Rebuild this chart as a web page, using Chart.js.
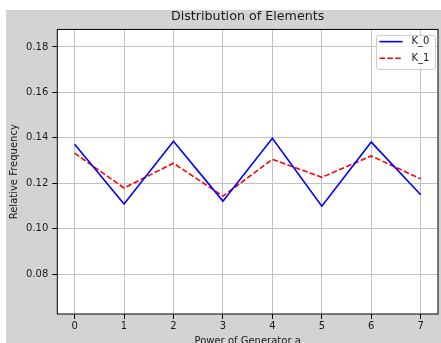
<!DOCTYPE html>
<html>
<head>
<meta charset="utf-8">
<script src="https://cdn.jsdelivr.net/npm/chart.js@4.4.0/dist/chart.umd.min.js"></script>
<style>
  html, body { margin: 0; padding: 0; background: #fff; }
  canvas { display: block; }
</style>
</head>
<body>
<canvas id="chart" width="441" height="343"></canvas>
<script>
// Data
const powers = [0, 1, 2, 3, 4, 5, 6, 7];
const k0Values = [0.1371, 0.1108, 0.1385, 0.1121, 0.1398, 0.1099, 0.1381, 0.1149];
const k1Values = [0.1332, 0.1179, 0.1288, 0.1143, 0.1305, 0.1226, 0.1320, 0.1219];
const seriesLabels = ['K_0', 'K_1'];
const xTicks = [0, 1, 2, 3, 4, 5, 6, 7];
const yTicks = [0.08, 0.10, 0.12, 0.14, 0.16, 0.18];

const FONT = 'DejaVu Sans';
const FIG_BG = '#d3d3d3';
const GRID = '#c2c2c2';

// Figure background + white axes face, and the black frame on top
const framePlugin = {
    id: 'frame',
    beforeDraw(chart) {
        const { ctx, chartArea: a } = chart;
        ctx.save();
        ctx.fillStyle = '#fff';
        ctx.fillRect(0, 0, chart.width, chart.height);
        ctx.fillStyle = FIG_BG;
        ctx.fillRect(6, 10, chart.width - 6, chart.height - 10);
        ctx.fillStyle = '#fff';
        ctx.fillRect(a.left, a.top, a.right - a.left, a.bottom - a.top);
        ctx.restore();
    },
    afterDatasetsDraw(chart) {
        const { ctx, chartArea: a } = chart;
        ctx.save();
        ctx.strokeStyle = '#000';
        ctx.lineWidth = 1;
        ctx.strokeRect(a.left, a.top, a.right - a.left, a.bottom - a.top);
        ctx.restore();
    }
};

// matplotlib-like legend box in the upper right corner
const legendPlugin = {
    id: 'boxLegend',
    afterDraw(chart) {
        const { ctx, chartArea: a } = chart;
        const w = 59, h = 34;
        const x = a.right - 3 - w;
        const y = a.top + 5.5;
        ctx.save();
        ctx.fillStyle = 'rgba(255,255,255,0.8)';
        ctx.strokeStyle = '#cccccc';
        ctx.lineWidth = 1;
        ctx.beginPath();
        ctx.roundRect(x + 0.5, y + 0.5, w, h, 2);
        ctx.fill();
        ctx.stroke();
        ctx.font = '10px "' + FONT + '"';
        ctx.textBaseline = 'middle';
        ctx.textAlign = 'left';
        chart.data.datasets.forEach((ds, i) => {
            const ly = y + 6.7 + i * 16.6;
            ctx.strokeStyle = ds.borderColor;
            ctx.lineWidth = ds.borderWidth;
            ctx.setLineDash(ds.borderDash || []);
            ctx.beginPath();
            ctx.moveTo(x + 3.5, ly);
            ctx.lineTo(x + 26.5, ly);
            ctx.stroke();
            ctx.setLineDash([]);
            ctx.fillStyle = '#1a1a1a';
            ctx.fillText(ds.label, x + 35.5, ly);
        });
        ctx.restore();
    }
};

const tickFont = { family: FONT, size: 10 };

new Chart(document.getElementById('chart'), {
    type: 'line',
    data: {
        datasets: [
            {
                label: seriesLabels[0],
                data: powers.map((p, i) => ({ x: p, y: k0Values[i] })),
                borderColor: '#0000ff',
                borderWidth: 1.6,
                pointRadius: 0,
                tension: 0,
                fill: false
            },
            {
                label: seriesLabels[1],
                data: powers.map((p, i) => ({ x: p, y: k1Values[i] })),
                borderColor: '#ff0000',
                borderWidth: 1.6,
                borderDash: [5.5, 2.4],
                pointRadius: 0,
                tension: 0,
                fill: false
            }
        ]
    },
    options: {
        responsive: false,
        devicePixelRatio: 1,
        animation: false,
        layout: { padding: { left: 6, right: 3, top: 0, bottom: 0 } },
        plugins: {
            legend: { display: false },
            tooltip: { enabled: false },
            title: {
                display: true,
                text: 'Distribution of Elements',
                fullSize: false,
                color: '#1a1a1a',
                font: { family: FONT, size: 12.7, weight: 'normal', lineHeight: 1.2 },
                padding: { top: 9.5, bottom: 4.7 }
            }
        },
        scales: {
            x: {
                type: 'linear',
                min: -0.35,
                max: 7.35,
                afterBuildTicks: (s) => { s.ticks = xTicks.map(v => ({ value: v })); },
                afterFit: (s) => { s.height = 29; },
                border: { display: false },
                grid: { color: GRID, lineWidth: 1, tickLength: 5, tickColor: '#000' },
                ticks: { color: '#1a1a1a', font: tickFont, padding: 1, maxRotation: 0 },
                title: {
                    display: true,
                    text: 'Power of Generator a',
                    color: '#1a1a1a',
                    font: tickFont,
                    padding: { top: 0, bottom: -4 }
                }
            },
            y: {
                type: 'linear',
                min: 0.0624,
                max: 0.1877,
                afterBuildTicks: (s) => { s.ticks = yTicks.map(v => ({ value: v })); },
                afterFit: (s) => { s.width = 51.3; },
                border: { display: false },
                grid: { color: GRID, lineWidth: 1, tickLength: 5, tickColor: '#000' },
                ticks: {
                    color: '#1a1a1a',
                    font: tickFont,
                    padding: 4,
                    callback: (v) => v.toFixed(2)
                },
                title: {
                    display: true,
                    text: 'Relative Frequency',
                    color: '#1a1a1a',
                    font: tickFont,
                    padding: { top: 2, bottom: 0 }
                }
            }
        }
    },
    plugins: [framePlugin, legendPlugin]
});
</script>
</body>
</html>
